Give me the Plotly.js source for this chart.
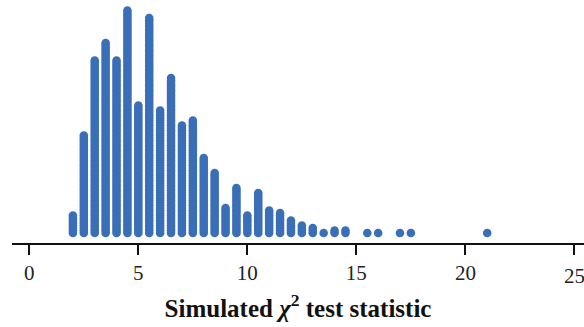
<!DOCTYPE html>
<html>
<head>
<meta charset="utf-8">
<script src="https://cdn.plot.ly/plotly-3.0.1.min.js"></script>
<style>html,body{margin:0;padding:0;background:#fff;overflow:hidden;}#chart{width:584px;height:327px;}</style>
</head>
<body>
<div id="chart"></div>
<script>
// Simulated chi-square statistic values (bin centers) and number of dots at each
const statValues = [2.0, 2.5, 3.0, 3.5, 4.0, 4.5, 5.0, 5.5, 6.0, 6.5, 7.0, 7.5, 8.0, 8.5, 9.0, 9.5, 10.0, 10.5, 11.0, 11.5, 12.0, 12.5, 13.0, 13.5, 14.0, 14.5, 15.5, 16.0, 17.0, 17.5, 21.0];
const dotCounts  = [8, 40, 70, 77, 70, 90, 52, 87, 50, 63, 44, 46, 31, 25, 11, 19, 8, 17, 10, 9, 6, 4, 3, 1, 2, 2, 1, 1, 1, 1, 1];
const tickValues = [0, 5, 10, 15, 20, 25];
const tickLabels = ["0", "5", "10", "15", "20", "25"];

const serif = 'Liberation Serif';

const xs = [], ys = [];
statValues.forEach((v, i) => {
  for (let k = 1; k <= dotCounts[i]; k++) { xs.push(v); ys.push(k); }
});

const trace = {
  type: 'scatter', mode: 'markers', x: xs, y: ys,
  marker: {size: 8.6, color: '#3a6fb8', line: {width: 0}},
  cliponaxis: false, hoverinfo: 'skip'
};

// last tick label sits at the page edge and is partly cut, as in the reference
const lastIdx = tickValues.length - 1;

const layout = {
  width: 584, height: 327,
  font: {family: serif},
  margin: {l: 12, r: 0, t: 0, b: 84},
  paper_bgcolor: '#fff', plot_bgcolor: '#fff',
  showlegend: false,
  xaxis: {
    range: [-0.794, 25.44], showgrid: false, zeroline: false,
    showline: true, linecolor: '#111', linewidth: 1.8,
    ticks: 'outside', ticklen: 10, tickwidth: 2, tickcolor: '#111',
    tickvals: tickValues, ticktext: tickLabels.map((t, i) => i === lastIdx ? ' ' : t),
    tickfont: {family: serif, size: 21, color: '#222'},
    title: {text: '<b>Simulated <i>χ</i><sup>2</sup> test statistic</b>', standoff: 15,
      font: {family: serif, size: 25, color: '#111'}}
  },
  yaxis: {range: [-3, 94.2], visible: false, showgrid: false, zeroline: false, fixedrange: true},
  annotations: [{
    x: tickValues[lastIdx], xref: 'x', y: 0, yref: 'paper', yshift: -19,
    yanchor: 'top', xanchor: 'center', showarrow: false,
    text: tickLabels[lastIdx], font: {family: serif, size: 21, color: '#222'}
  }]
};

Plotly.newPlot('chart', [trace], layout, {staticPlot: true, displayModeBar: false});
</script>
</body>
</html>
